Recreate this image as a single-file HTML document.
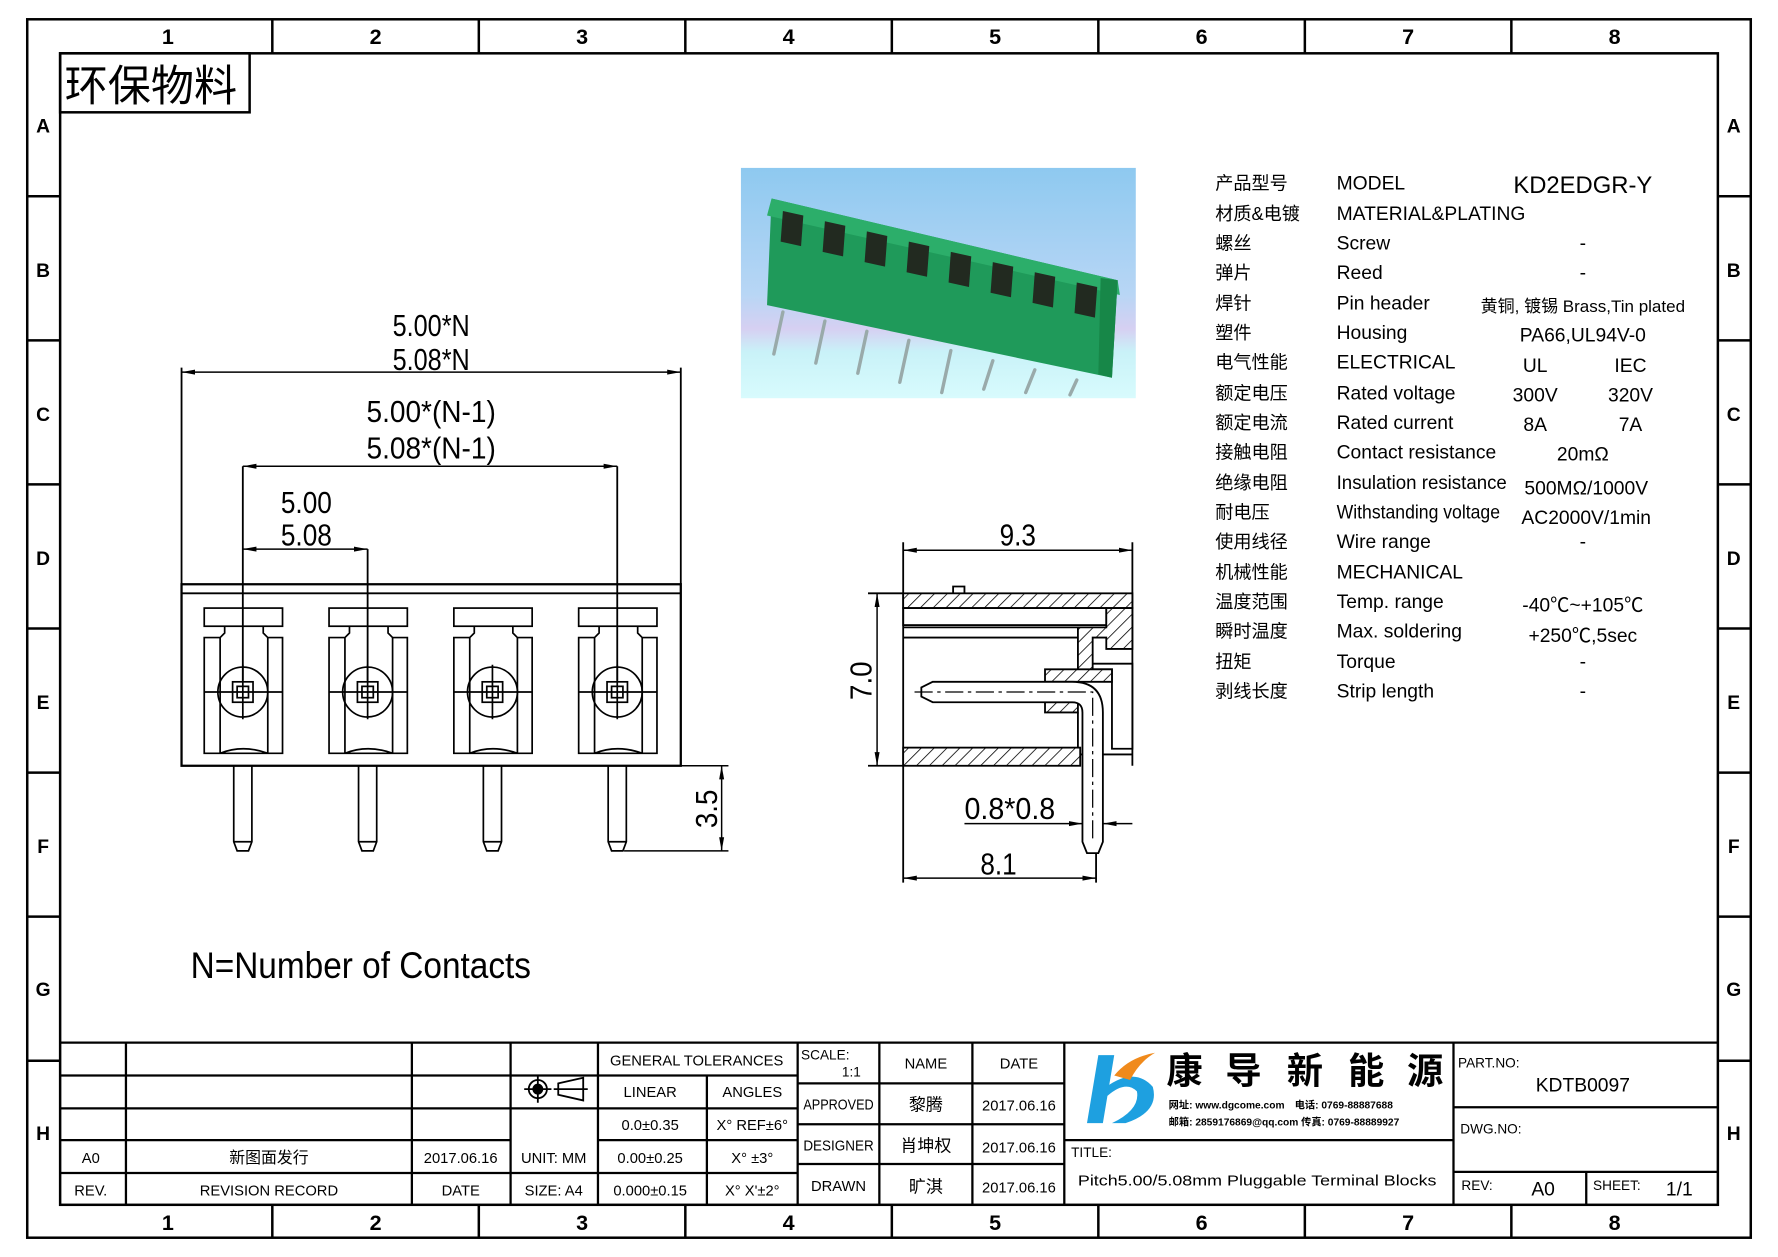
<!DOCTYPE html>
<html><head><meta charset="utf-8"><style>
html,body{margin:0;padding:0;background:#fff;}
svg{display:block}
text{font-family:"Liberation Sans Narrow","Liberation Sans","Noto Sans CJK SC",sans-serif;fill:#000}
.n{font-family:"Liberation Sans","Noto Sans CJK SC",sans-serif;font-weight:bold;font-size:19px}
.c{font-family:"Liberation Sans","Noto Sans CJK SC",sans-serif}
</style></head><body>
<svg width="1778" height="1257" viewBox="0 0 1567 1108" preserveAspectRatio="none" xmlns="http://www.w3.org/2000/svg">
<defs>
<pattern id="h" width="8" height="8" patternUnits="userSpaceOnUse" patternTransform="rotate(45)">
<rect width="8" height="8" fill="#fff"/><line x1="0" y1="0" x2="0" y2="8" stroke="#000" stroke-width="1.4"/></pattern>
<linearGradient id="bg" x1="0" y1="0" x2="0" y2="1">
<stop offset="0" stop-color="#8ec9f0"/><stop offset="0.55" stop-color="#b8d6f5"/><stop offset="0.7" stop-color="#d6d0f2"/><stop offset="0.8" stop-color="#c9f2f8"/><stop offset="1" stop-color="#d8fbfd"/></linearGradient>
<marker id="a" markerWidth="12" markerHeight="6" refX="12" refY="3" orient="auto" markerUnits="userSpaceOnUse"><path d="M0,0.8 L12,3 L0,5.2z" fill="#000"/></marker>
<marker id="b" markerWidth="12" markerHeight="6" refX="0" refY="3" orient="auto" markerUnits="userSpaceOnUse"><path d="M12,0.8 L0,3 L12,5.2z" fill="#000"/></marker>
</defs>
<g fill="none" stroke="#000" stroke-width="2.2">
<rect x="24" y="17" width="1519" height="1074"/>
<rect x="53" y="47" width="1461" height="1015"/>
<path d="M240 17V47M422 17V47M604 17V47M786 17V47M968 17V47M1150 17V47M1332 17V47M240 1062V1091M422 1062V1091M604 1062V1091M786 1062V1091M968 1062V1091M1150 1062V1091M1332 1062V1091"/>
<path d="M24 173H53M24 300H53M24 427H53M24 554H53M24 681H53M24 808H53M24 935H53M1514 173H1543M1514 300H1543M1514 427H1543M1514 554H1543M1514 681H1543M1514 808H1543M1514 935H1543"/>
<rect x="53" y="47" width="167" height="52"/>
</g>
<g class="n" text-anchor="middle">
<text x="148" y="39">1</text><text x="331" y="39">2</text><text x="513" y="39">3</text><text x="695" y="39">4</text><text x="877" y="39">5</text><text x="1059" y="39">6</text><text x="1241" y="39">7</text><text x="1423" y="39">8</text>
<text x="148" y="1084">1</text><text x="331" y="1084">2</text><text x="513" y="1084">3</text><text x="695" y="1084">4</text><text x="877" y="1084">5</text><text x="1059" y="1084">6</text><text x="1241" y="1084">7</text><text x="1423" y="1084">8</text>
<g font-size="17"><text x="38" y="117">A</text><text x="38" y="244">B</text><text x="38" y="371">C</text><text x="38" y="498">D</text><text x="38" y="625">E</text><text x="38" y="752">F</text><text x="38" y="878">G</text><text x="38" y="1005">H</text>
<text x="1528" y="117">A</text><text x="1528" y="244">B</text><text x="1528" y="371">C</text><text x="1528" y="498">D</text><text x="1528" y="625">E</text><text x="1528" y="752">F</text><text x="1528" y="878">G</text><text x="1528" y="1005">H</text></g>
</g>
<text x="57" y="89" class="c" font-size="38">环保物料</text>

<!-- Front view -->
<g fill="none" stroke="#000" stroke-width="1.6">
<rect x="160" y="515" width="440" height="160" stroke-width="2"/>
<line x1="160" y1="523" x2="600" y2="523"/>
<path d="M160 515V324M600 515V324M214 600V411M324 600V484M544 600V411"/>
</g>
<g fill="none" stroke="#000" stroke-width="1.5">
<g id="p">
<rect x="180" y="536" width="69" height="16"/>
<path d="M194 664V562H180V664H249V562H236V664M194 562L198 558V552M236 562L232 558V552M194 664Q214 656 236 664"/>
<circle cx="214" cy="610" r="22"/>
<rect x="205" y="601" width="18" height="18"/><rect x="209" y="605" width="10" height="10"/>
<path d="M180 610H249M214 586V634M214 605V615M209 610H219"/>
<path d="M206 675V742L209 750H219L222 742V675M206 742H222"/>
</g>
<use href="#p" x="110"/><use href="#p" x="220"/><use href="#p" x="330"/>
</g>
<g stroke="#000" stroke-width="1.3" fill="none">
<line x1="160" y1="328" x2="600" y2="328" marker-start="url(#b)" marker-end="url(#a)"/>
<line x1="214" y1="411" x2="544" y2="411" marker-start="url(#b)" marker-end="url(#a)"/>
<line x1="214" y1="484" x2="324" y2="484" marker-start="url(#b)" marker-end="url(#a)"/>
<path d="M550 675H642M550 750H642"/>
<line x1="636" y1="675" x2="636" y2="750" marker-start="url(#b)" marker-end="url(#a)"/>
</g>
<g font-size="27" text-anchor="middle">
<text x="380" y="296" textLength="68" lengthAdjust="spacingAndGlyphs">5.00*N</text><text x="380" y="326" textLength="68" lengthAdjust="spacingAndGlyphs">5.08*N</text>
<text x="380" y="372" textLength="114" lengthAdjust="spacingAndGlyphs">5.00*(N-1)</text><text x="380" y="404" textLength="114" lengthAdjust="spacingAndGlyphs">5.08*(N-1)</text>
<text x="270" y="452" textLength="45" lengthAdjust="spacingAndGlyphs">5.00</text><text x="270" y="481" textLength="45" lengthAdjust="spacingAndGlyphs">5.08</text>
<text x="0" y="0" transform="translate(632,713) rotate(-90)" textLength="34" lengthAdjust="spacingAndGlyphs">3.5</text>
</g>
<text x="168" y="862" font-size="33" textLength="300" lengthAdjust="spacingAndGlyphs">N=Number of Contacts</text>

<!-- Photo -->
<rect x="653" y="148" width="348" height="203" fill="url(#bg)"/>
<polygon points="680,175 985,247 980,333 676,269" fill="#1f9a5a"/>
<polygon points="680,175 985,247 987,260 676,190" fill="#2cae6a"/>
<polygon points="970,245 985,247 980,333 968,330" fill="#178748"/>
<g fill="#222a20">
<polygon points="690,186 708,190 706,217 688,213"/>
<polygon points="727,195 745,199 743,226 725,222"/>
<polygon points="764,204 782,208 780,235 762,231"/>
<polygon points="801,213 819,217 817,244 799,240"/>
<polygon points="838,222 856,226 854,253 836,249"/>
<polygon points="875,231 893,235 891,262 873,258"/>
<polygon points="912,240 930,244 928,271 910,267"/>
<polygon points="949,249 967,253 965,280 947,276"/>
</g>
<g stroke="#9aa" stroke-width="3" stroke-linecap="round">
<path d="M690 275L682 312M727 283L719 320M764 292L756 329M801 300L793 337M838 309L830 346M875 318L867 343M912 326L904 346M949 335L943 348"/>
</g>

<!-- Side view -->
<g fill="none" stroke="#000" stroke-width="1.6">
<path d="M796 478V778M998 478V675M966 740V778M765 523H796M765 675H796"/>
<rect x="796" y="523" width="202" height="13" fill="url(#h)"/>
<path d="M840 523V517H850V523" />
<rect x="796" y="536" width="179" height="15"/>
<path d="M796 553H950M796 562H950"/>
<path d="M950 553H975V536H998V572H975V562H963V600H950z" fill="url(#h)"/>
<path d="M963 585H998V660H980V590H963" />
<path d="M921 590H980V601H921z" fill="url(#h)"/>
<path d="M921 619H950V628H921z" fill="url(#h)"/>
<rect x="796" y="659" width="156" height="16" fill="url(#h)"/>
<path d="M950 628V659M952 665H998"/>
<path d="M822 601H945Q972 601 972 628V742L968 752H958L954 742V628Q954 619 945 619H822L812 614V606z" fill="#fff"/>
<path d="M806 610H963V742" stroke-dasharray="16 4 3 4" stroke-width="1.1"/>
</g>
<g stroke="#000" stroke-width="1.3" fill="none">
<line x1="796" y1="485" x2="998" y2="485" marker-start="url(#b)" marker-end="url(#a)"/>
<line x1="773" y1="523" x2="773" y2="675" marker-start="url(#b)" marker-end="url(#a)"/>
<line x1="796" y1="774" x2="966" y2="774" marker-start="url(#b)" marker-end="url(#a)"/>
<line x1="850" y1="726" x2="954" y2="726" marker-end="url(#a)"/>
<line x1="998" y1="726" x2="972" y2="726" marker-end="url(#a)"/>
</g>
<g font-size="27" text-anchor="middle">
<text x="897" y="481" textLength="32" lengthAdjust="spacingAndGlyphs">9.3</text>
<text x="0" y="0" transform="translate(768,600) rotate(-90)" textLength="34" lengthAdjust="spacingAndGlyphs">7.0</text>
<text x="890" y="722" textLength="80" lengthAdjust="spacingAndGlyphs">0.8*0.8</text>
<text x="880" y="771" textLength="32" lengthAdjust="spacingAndGlyphs">8.1</text>
</g>

<!-- Spec table -->
<g font-size="17">
<g class="c" font-size="16">
<text x="1071" y="167">产品型号</text><text x="1071" y="194">材质&amp;电镀</text><text x="1071" y="220">螺丝</text><text x="1071" y="246">弹片</text><text x="1071" y="273">焊针</text><text x="1071" y="299">塑件</text><text x="1071" y="325">电气性能</text><text x="1071" y="352">额定电压</text><text x="1071" y="378">额定电流</text><text x="1071" y="404">接触电阻</text><text x="1071" y="431">绝缘电阻</text><text x="1071" y="457">耐电压</text><text x="1071" y="483">使用线径</text><text x="1071" y="510">机械性能</text><text x="1071" y="536">温度范围</text><text x="1071" y="562">瞬时温度</text><text x="1071" y="589">扭矩</text><text x="1071" y="615">剥线长度</text>
</g>
<text x="1178" y="167">MODEL</text><text x="1178" y="194">MATERIAL&amp;PLATING</text><text x="1178" y="220">Screw</text><text x="1178" y="246">Reed</text><text x="1178" y="273">Pin header</text><text x="1178" y="299">Housing</text><text x="1178" y="325">ELECTRICAL</text><text x="1178" y="352">Rated voltage</text><text x="1178" y="378">Rated current</text><text x="1178" y="404">Contact resistance</text><text x="1178" y="431" textLength="150" lengthAdjust="spacingAndGlyphs">Insulation resistance</text><text x="1178" y="457" textLength="144" lengthAdjust="spacingAndGlyphs">Withstanding voltage</text><text x="1178" y="483">Wire range</text><text x="1178" y="510">MECHANICAL</text><text x="1178" y="536">Temp. range</text><text x="1178" y="562">Max. soldering</text><text x="1178" y="589">Torque</text><text x="1178" y="615">Strip length</text>
<g text-anchor="middle">
<text x="1395" y="170" font-size="21">KD2EDGR-Y</text>
<text x="1395" y="220">-</text><text x="1395" y="246">-</text>
<text x="1395" y="275" class="c" font-size="15">黄铜, 镀锡 Brass,Tin plated</text>
<text x="1395" y="301">PA66,UL94V-0</text>
<text x="1353" y="328">UL</text><text x="1437" y="328">IEC</text>
<text x="1353" y="354">300V</text><text x="1437" y="354">320V</text>
<text x="1353" y="380">8A</text><text x="1437" y="380">7A</text>
<text x="1395" y="406">20mΩ</text>
<text x="1398" y="436">500MΩ/1000V</text>
<text x="1398" y="462">AC2000V/1min</text>
<text x="1395" y="483">-</text>
<text x="1395" y="539">-40℃~+105℃</text>
<text x="1395" y="566">+250℃,5sec</text>
<text x="1395" y="589">-</text><text x="1395" y="615">-</text>
</g>
</g>

<!-- Title block -->
<g fill="none" stroke="#000" stroke-width="2">
<path d="M53 919H1514"/>
<path d="M53 948H703M53 977H703M53 1005H450M527 1005H703M53 1034H703M527 948H703"/>
<path d="M111 919V1062M363 919V1062M450 919V1062M527 919V1062M623 948V1062M703 919V1062"/>
<path d="M703 955H938M703 991H938M703 1026H938M775 919V1062M857 919V1062M938 919V1062"/>
<path d="M938 1005H1281M1281 919V1062M1281 976H1514M1281 1033H1514M1398 1033V1062"/>
</g>
<g font-size="13" text-anchor="middle">
<text x="614" y="939">GENERAL TOLERANCES</text>
<text x="573" y="967">LINEAR</text><text x="663" y="967">ANGLES</text>
<text x="573" y="996">0.0±0.35</text><text x="663" y="996">X° REF±6°</text>
<text x="573" y="1025">0.00±0.25</text><text x="663" y="1025">X° ±3°</text>
<text x="573" y="1054">0.000±0.15</text><text x="663" y="1054">X° X'±2°</text>
<text x="488" y="1025">UNIT: MM</text><text x="488" y="1054">SIZE: A4</text>
<text x="80" y="1025">A0</text><text x="80" y="1054">REV.</text>
<text x="237" y="1025" class="c" font-size="14">新图面发行</text><text x="237" y="1054">REVISION RECORD</text>
<text x="406" y="1025">2017.06.16</text><text x="406" y="1054">DATE</text>
<text x="816" y="942">NAME</text><text x="898" y="942">DATE</text>
<text x="739" y="978" textLength="62" lengthAdjust="spacingAndGlyphs">APPROVED</text><text x="739" y="1014" textLength="62" lengthAdjust="spacingAndGlyphs">DESIGNER</text><text x="739" y="1050">DRAWN</text>
<text x="816" y="979" class="c" font-size="15">黎腾</text><text x="816" y="1015" class="c" font-size="15">肖坤权</text><text x="816" y="1051" class="c" font-size="15">旷淇</text>
<text x="898" y="979">2017.06.16</text><text x="898" y="1016">2017.06.16</text><text x="898" y="1051">2017.06.16</text>
<text x="1108" y="1045" textLength="316" lengthAdjust="spacingAndGlyphs">Pitch5.00/5.08mm Pluggable Terminal Blocks</text>
<text x="1395" y="962" font-size="17">KDTB0097</text>
<text x="1360" y="1054" font-size="17">A0</text><text x="1480" y="1054" font-size="17">1/1</text>
</g>
<g font-size="12">
<text x="706" y="934">SCALE:</text><text x="742" y="949">1:1</text>
<text x="944" y="1020">TITLE:</text>
<text x="1285" y="941">PART.NO:</text><text x="1287" y="999">DWG.NO:</text>
<text x="1288" y="1049">REV:</text><text x="1404" y="1049">SHEET:</text>
</g>
<g fill="none" stroke="#000" stroke-width="1.6">
<circle cx="474" cy="960" r="8"/><circle cx="474" cy="960" r="4" fill="#000"/><path d="M462 960H486M474 948V972"/>
<path d="M492 955L514 950V970L492 965zM488 960H518"/>
</g>
<!-- Logo -->
<path d="M968 930 L982 930 L972 990 L958 990z" fill="#1ea0e0"/>
<path d="M975 958 Q1000 940 1016 958 Q1022 980 992 990 L980 990 Q1005 978 1002 962 Q992 952 976 966z" fill="#1ea0e0"/>
<path d="M982 948 Q995 932 1018 928 Q1004 936 996 952z" fill="#f08a1c"/>
<g class="c" font-size="32" font-weight="bold"><text x="1028" y="955">康</text><text x="1080" y="955">导</text><text x="1134" y="955">新</text><text x="1188" y="955">能</text><text x="1240" y="955">源</text></g>
<g class="c" font-size="9" font-weight="bold"><text x="1030" y="977">网址: www.dgcome.com　电话: 0769-88887688</text><text x="1030" y="992">邮箱: 2859176869@qq.com 传真: 0769-88889927</text></g>
</svg>
</body></html>
